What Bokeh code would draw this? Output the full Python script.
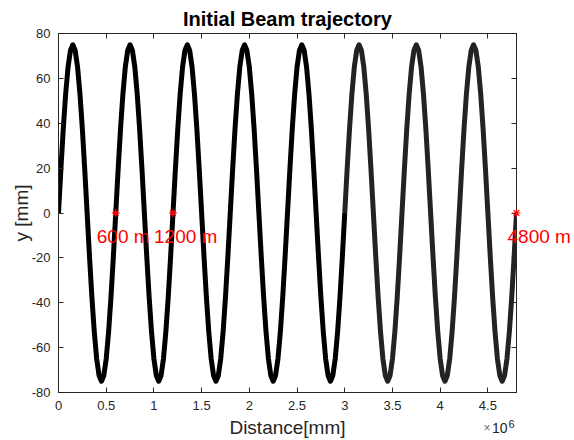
from bokeh.plotting import figure
from bokeh.models import (ColumnDataSource, LinearAxis, FixedTicker)
from bokeh.core.properties import value
from bokeh.embed import file_html
from bokeh.resources import INLINE

# ---- data (distance in metres, y in mm) ----
dist_solid_m = [
    0, 25, 50, 75, 100, 125, 150, 175, 200, 225, 250, 275,
    300, 325, 350, 375, 400, 425, 450, 475, 500, 525, 550, 575,
    600, 625, 650, 675, 700, 725, 750, 775, 800, 825, 850, 875,
    900, 925, 950, 975, 1000, 1025, 1050, 1075, 1100, 1125, 1150, 1175,
    1200, 1225, 1250, 1275, 1300, 1325, 1350, 1375, 1400, 1425, 1450, 1475,
    1500, 1525, 1550, 1575, 1600, 1625, 1650, 1675, 1700, 1725, 1750, 1775,
    1800, 1825, 1850, 1875, 1900, 1925, 1950, 1975, 2000, 2025, 2050, 2075,
    2100, 2125, 2150, 2175, 2200, 2225, 2250, 2275, 2300, 2325, 2350, 2375,
    2400, 2425, 2450, 2475, 2500, 2525, 2550, 2575, 2600, 2625, 2650, 2675,
    2700, 2725, 2750, 2775, 2800, 2825, 2850, 2875, 2900, 2925, 2950, 2975,
    3000,
]
y_solid = [
    0, 19.4, 37.5, 53.0, 65.0, 72.4, 75.0, 72.4, 65.0, 53.0, 37.5, 19.4,
    0, -19.4, -37.5, -53.0, -65.0, -72.4, -75.0, -72.4, -65.0, -53.0, -37.5, -19.4,
    0, 19.4, 37.5, 53.0, 65.0, 72.4, 75.0, 72.4, 65.0, 53.0, 37.5, 19.4,
    0, -19.4, -37.5, -53.0, -65.0, -72.4, -75.0, -72.4, -65.0, -53.0, -37.5, -19.4,
    0, 19.4, 37.5, 53.0, 65.0, 72.4, 75.0, 72.4, 65.0, 53.0, 37.5, 19.4,
    0, -19.4, -37.5, -53.0, -65.0, -72.4, -75.0, -72.4, -65.0, -53.0, -37.5, -19.4,
    0, 19.4, 37.5, 53.0, 65.0, 72.4, 75.0, 72.4, 65.0, 53.0, 37.5, 19.4,
    0, -19.4, -37.5, -53.0, -65.0, -72.4, -75.0, -72.4, -65.0, -53.0, -37.5, -19.4,
    0, 19.4, 37.5, 53.0, 65.0, 72.4, 75.0, 72.4, 65.0, 53.0, 37.5, 19.4,
    0, -19.4, -37.5, -53.0, -65.0, -72.4, -75.0, -72.4, -65.0, -53.0, -37.5, -19.4,
    0,
]
dist_dense_m = [
    3000, 3025, 3050, 3075, 3100, 3125, 3150, 3175, 3200, 3225, 3250, 3275,
    3300, 3325, 3350, 3375, 3400, 3425, 3450, 3475, 3500, 3525, 3550, 3575,
    3600, 3625, 3650, 3675, 3700, 3725, 3750, 3775, 3800, 3825, 3850, 3875,
    3900, 3925, 3950, 3975, 4000, 4025, 4050, 4075, 4100, 4125, 4150, 4175,
    4200, 4225, 4250, 4275, 4300, 4325, 4350, 4375, 4400, 4425, 4450, 4475,
    4500, 4525, 4550, 4575, 4600, 4625, 4650, 4675, 4700, 4725, 4750, 4775,
    4800,
]
y_dense = [
    0, 19.4, 37.5, 53.0, 65.0, 72.4, 75.0, 72.4, 65.0, 53.0, 37.5, 19.4,
    0, -19.4, -37.5, -53.0, -65.0, -72.4, -75.0, -72.4, -65.0, -53.0, -37.5, -19.4,
    0, 19.4, 37.5, 53.0, 65.0, 72.4, 75.0, 72.4, 65.0, 53.0, 37.5, 19.4,
    0, -19.4, -37.5, -53.0, -65.0, -72.4, -75.0, -72.4, -65.0, -53.0, -37.5, -19.4,
    0, 19.4, 37.5, 53.0, 65.0, 72.4, 75.0, 72.4, 65.0, 53.0, 37.5, 19.4,
    0, -19.4, -37.5, -53.0, -65.0, -72.4, -75.0, -72.4, -65.0, -53.0, -37.5, -19.4,
    0,
]
marker_dist_m = [600, 1200, 4800]
marker_y = [0, 0, 0]
marker_text = ["600 m", "1200 m", "4800 m"]

x_ticks = [0, 500000, 1000000, 1500000, 2000000, 2500000, 3000000, 3500000, 4000000, 4500000]
x_tick_labels = ["0", "0.5", "1", "1.5", "2", "2.5", "3", "3.5", "4", "4.5"]
y_ticks = [-80, -60, -40, -20, 0, 20, 40, 60, 80]
y_tick_labels = ["-80", "-60", "-40", "-20", "0", "20", "40", "60", "80"]

MM_PER_M = 1000

FONT = "Liberation Sans"
AX = "#262626"

p = figure(width=574, height=440, x_range=(0, 4800000), y_range=(-80, 80),
           output_backend="svg", toolbar_location=None,
           min_border_left=58, min_border_right=58, min_border_top=33, min_border_bottom=48)

p.title.text = "Initial Beam trajectory"
p.title.align = "center"
p.title.text_font = FONT
p.title.text_font_size = "20px"
p.title.text_font_style = "bold"
p.title.text_color = "#000000"
p.title.standoff = 7

p.grid.visible = False
p.background_fill_color = "white"
p.border_fill_color = "white"
p.outline_line_color = AX
p.outline_line_width = 1

src_solid = ColumnDataSource(dict(x=[d * MM_PER_M for d in dist_solid_m], y=y_solid))
src_dense = ColumnDataSource(dict(x=[d * MM_PER_M for d in dist_dense_m], y=y_dense))

p.line("x", "y", source=src_solid, line_color="black", line_width=5, line_join="round")
p.line("x", "y", source=src_dense, line_color="#232323", line_width=5, line_join="round")

src_m = ColumnDataSource(dict(x=[d * MM_PER_M for d in marker_dist_m], y=marker_y,
                              t=marker_text, xo=[-19, -19, -9]))
p.scatter("x", "y", source=src_m, marker="asterisk", size=8, line_color="red",
          line_width=1.2, level="overlay")
p.text("x", "y", text="t", source=src_m, x_offset="xo", y_offset=23,
       text_font=value(FONT), text_font_size="19px", text_color="red",
       text_baseline="middle", text_align="left", level="overlay")

# axes
xa = p.xaxis[0]
xa.ticker = FixedTicker(ticks=x_ticks)
xa.major_label_overrides = {t: l for t, l in zip(x_ticks, x_tick_labels)}
ya = p.yaxis[0]
ya.ticker = FixedTicker(ticks=y_ticks)
ya.major_label_overrides = {t: l for t, l in zip(y_ticks, y_tick_labels)}
xa.axis_label = "Distance[mm]"
ya.axis_label = "y [mm]"
for a in (xa, ya):
    a.axis_line_color = AX
    a.major_tick_line_color = AX
    a.major_tick_in = 5
    a.major_tick_out = 0
    a.minor_tick_line_color = None
    a.major_label_text_font = FONT
    a.major_label_text_font_size = "13px"
    a.major_label_text_color = AX
    a.axis_label_text_font = FONT
    a.axis_label_text_font_size = "19px"
    a.axis_label_text_font_style = "normal"
    a.axis_label_text_color = AX
xa.major_label_standoff = 8
xa.axis_label_standoff = 4
ya.major_label_standoff = 8
ya.axis_label_standoff = -3

# box ticks on top and right (no labels)
top = LinearAxis(ticker=FixedTicker(ticks=x_ticks),
                 major_label_overrides={t: "" for t in x_ticks},
                 major_tick_in=5, major_tick_out=0, minor_tick_line_color=None,
                 axis_line_color=AX, major_tick_line_color=AX, major_label_standoff=0)
right = LinearAxis(ticker=FixedTicker(ticks=y_ticks),
                   major_label_overrides={t: "" for t in y_ticks},
                   major_tick_in=5, major_tick_out=0, minor_tick_line_color=None,
                   axis_line_color=AX, major_tick_line_color=AX, major_label_standoff=0)
p.add_layout(top, "above")
p.add_layout(right, "right")

# x10^6 exponent note at the right end of the x axis
x_end = p.x_range.end
y_bot = p.y_range.start
p.text(x=[x_end], y=[y_bot], text=["\u00d7"], x_offset=-26, y_offset=35,
       text_font=value(FONT), text_font_size="12px", text_color="#6e6e6e",
       text_align="right", text_baseline="alphabetic", level="overlay")
p.text(x=[x_end], y=[y_bot], text=["10"], x_offset=-9, y_offset=35,
       text_font=value(FONT), text_font_size="14px", text_color=AX,
       text_align="right", text_baseline="alphabetic", level="overlay")
p.text(x=[x_end], y=[y_bot], text=["6"], x_offset=-8, y_offset=31,
       text_font=value(FONT), text_font_size="11px", text_color=AX,
       text_align="left", text_baseline="alphabetic", level="overlay")

open("out.html", "w").write(file_html(p, INLINE))
